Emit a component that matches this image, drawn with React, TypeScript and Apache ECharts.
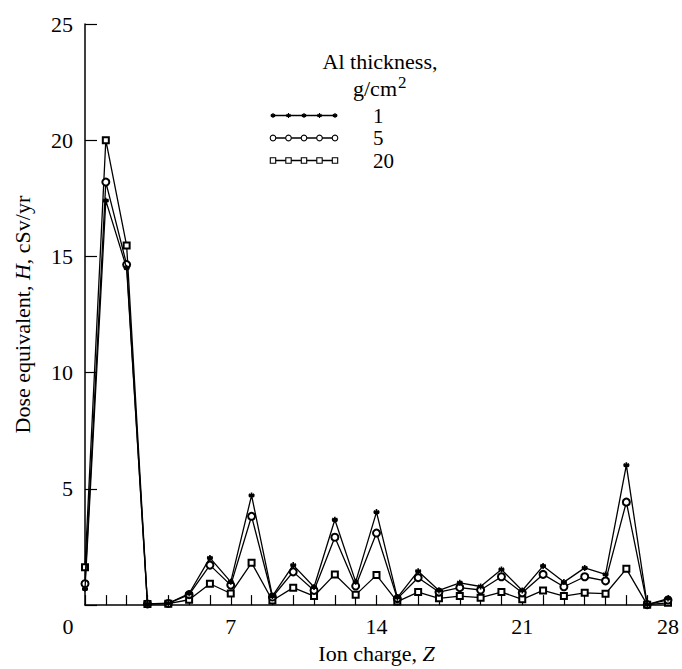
import React, { useEffect, useRef } from "react";
import * as echarts from "echarts";

// Ion charge Z, 0..28
const charges: number[] = Array.from({ length: 29 }, (_, i) => i);

// Annual dose equivalent H (cSv/yr) behind three Al shield thicknesses
const dose1: number[] = [
  0.7, 17.4, 14.5, 0.05, 0.08, 0.5, 2.03, 1.0, 4.72, 0.39, 1.72, 0.78, 3.67, 1.0, 4.0,
  0.32, 1.46, 0.63, 0.96, 0.8, 1.53, 0.63, 1.68, 0.99, 1.6, 1.32, 6.02, 0.02, 0.28,
];
const dose5: number[] = [
  0.92, 18.2, 14.65, 0.05, 0.07, 0.45, 1.72, 0.86, 3.82, 0.35, 1.43, 0.63, 2.92, 0.82, 3.1,
  0.28, 1.18, 0.56, 0.75, 0.65, 1.22, 0.53, 1.32, 0.79, 1.22, 1.04, 4.43, 0.02, 0.22,
];
const dose20: number[] = [
  1.63, 20.0, 15.47, 0.05, 0.06, 0.23, 0.92, 0.5, 1.82, 0.2, 0.75, 0.39, 1.32, 0.44, 1.29,
  0.15, 0.56, 0.29, 0.39, 0.32, 0.56, 0.25, 0.63, 0.39, 0.53, 0.49, 1.56, 0.02, 0.1,
];

const thicknessLabels: string[] = ["1", "5", "20"];
const yTicks: number[] = [0, 5, 10, 15, 20, 25];
const xLabelStep = 7;

const SERIF = "Liberation Serif, Times New Roman, DejaVu Serif, serif";
const ASTERISK_D = "M0,-3L0,3M-2.6,-1.5L2.6,1.5M-2.6,1.5L2.6,-1.5M-3,0L3,0";

echarts.graphic.registerShape("asterisk", echarts.graphic.extendPath(ASTERISK_D, {}));

type MarkerKind = "star" | "circle" | "square";

function legendRow(kind: MarkerKind, label: string, y: number): any[] {
  const x0 = 273;
  const x1 = 335;
  const els: any[] = [
    {
      type: "line",
      shape: { x1: x0, y1: y, x2: x1, y2: y },
      style: { stroke: "#000", lineWidth: 1.3 },
      silent: true,
    },
  ];
  for (let k = 0; k < 5; k++) {
    const cx = x0 + ((x1 - x0) * k) / 4;
    if (kind === "star") {
      els.push({
        type: "asterisk",
        x: cx,
        y,
        scaleX: 0.8,
        scaleY: 0.8,
        style: { stroke: "#000", fill: null, lineWidth: 1.5 },
        silent: true,
      });
    } else if (kind === "circle") {
      els.push({
        type: "circle",
        shape: { cx, cy: y, r: 2.8 },
        style: { stroke: "#000", fill: "#fff", lineWidth: 1.1 },
        silent: true,
      });
    } else {
      els.push({
        type: "rect",
        shape: { x: cx - 2.7, y: y - 2.7, width: 5.4, height: 5.4 },
        style: { stroke: "#000", fill: "#fff", lineWidth: 1.1 },
        silent: true,
      });
    }
  }
  els.push({
    type: "text",
    x: 373,
    y,
    style: {
      text: label,
      fontFamily: SERIF,
      fontSize: 21,
      lineHeight: 19,
      fill: "#000",
      textAlign: "left",
      textVerticalAlign: "middle",
    },
    silent: true,
  });
  return els;
}

export default function App() {
  const ref = useRef<HTMLDivElement>(null);

  useEffect(() => {
    if (!ref.current) return;
    const chart = echarts.init(ref.current, null, { renderer: "svg" });

    const seriesData = [dose1, dose5, dose20].map((arr) =>
      arr.map((v, i) => [charges[i], v])
    );

    const option: any = {
      animation: false,
      backgroundColor: "#fff",
      grid: { left: 85, right: 12.4, top: 24, bottom: 61.5, containLabel: false },
      xAxis: {
        type: "value",
        min: 0,
        max: 28,
        interval: 1,
        name: "Ion charge, {i|Z}",
        nameLocation: "middle",
        nameGap: 33,
        nameTextStyle: {
          fontFamily: SERIF,
          fontSize: 22,
          color: "#000",
          rich: { i: { fontFamily: SERIF, fontSize: 22, fontStyle: "italic", color: "#000" } },
        },
        axisLine: { show: true, lineStyle: { color: "#000", width: 1.5 } },
        axisTick: { show: true, inside: true, length: 10, lineStyle: { color: "#000", width: 1.2 } },
        axisLabel: {
          margin: 10,
          fontFamily: SERIF,
          fontSize: 22,
          color: "#000",
          showMinLabel: true,
          showMaxLabel: true,
          formatter: (v: number) =>
            v === 0 ? "{z|0}" : v % xLabelStep === 0 ? String(v) : "",
          rich: {
            z: { fontFamily: SERIF, fontSize: 22, color: "#000", padding: [0, 34, 0, 0] },
          },
        },
        splitLine: { show: false },
      },
      yAxis: {
        type: "value",
        min: yTicks[0],
        max: yTicks[yTicks.length - 1],
        interval: 5,
        name: "Dose equivalent, {i|H}, cSv/yr",
        nameLocation: "middle",
        nameGap: 52,
        nameTextStyle: {
          fontFamily: SERIF,
          fontSize: 22,
          color: "#000",
          rich: { i: { fontFamily: SERIF, fontSize: 22, fontStyle: "italic", color: "#000" } },
        },
        axisLine: { show: true, lineStyle: { color: "#000", width: 1.5 } },
        axisTick: { show: true, inside: true, length: 12, lineStyle: { color: "#000", width: 1.2 } },
        axisLabel: {
          margin: 12,
          fontFamily: SERIF,
          fontSize: 22,
          color: "#000",
          formatter: (v: number) => (v === 0 ? "" : String(v)),
        },
        splitLine: { show: false },
      },
      series: [
        {
          name: thicknessLabels[2],
          type: "line",
          data: seriesData[2],
          symbol: "emptyRect",
          symbolSize: 6,
          lineStyle: { color: "#000", width: 1.3 },
          itemStyle: { color: "#000", borderColor: "#000", borderWidth: 1.1 },
          z: 2,
        },
        {
          name: thicknessLabels[1],
          type: "line",
          data: seriesData[1],
          symbol: "emptyCircle",
          symbolSize: 7,
          lineStyle: { color: "#000", width: 1.3 },
          itemStyle: { color: "#000", borderColor: "#000", borderWidth: 1.1 },
          z: 3,
        },
        {
          name: thicknessLabels[0],
          type: "line",
          data: seriesData[0],
          symbol: "path://" + ASTERISK_D,
          symbolSize: 6,
          lineStyle: { color: "#000", width: 1.3 },
          itemStyle: { color: "#000", borderColor: "#000", borderWidth: 1.6 },
          z: 4,
        },
      ],
      graphic: [
        {
          type: "text",
          x: 380,
          y: 61,
          style: {
            text: "Al thickness,",
            fontFamily: SERIF,
            fontSize: 22,
            lineHeight: 20,
            fill: "#000",
            textAlign: "center",
            textVerticalAlign: "middle",
          },
          silent: true,
        },
        {
          type: "text",
          x: 397,
          y: 88,
          style: {
            text: "g/cm",
            fontFamily: SERIF,
            fontSize: 22,
            lineHeight: 20,
            fill: "#000",
            textAlign: "right",
            textVerticalAlign: "middle",
          },
          silent: true,
        },
        {
          type: "text",
          x: 398,
          y: 82,
          style: {
            text: "2",
            fontFamily: SERIF,
            fontSize: 17,
            lineHeight: 14,
            fill: "#000",
            textAlign: "left",
            textVerticalAlign: "middle",
          },
          silent: true,
        },
        ...legendRow("star", thicknessLabels[0], 115.5),
        ...legendRow("circle", thicknessLabels[1], 138),
        ...legendRow("square", thicknessLabels[2], 160.5),
      ],
    };

    chart.setOption(option);
    return () => chart.dispose();
  }, []);

  return (
    <div
      ref={ref}
      style={{ position: "fixed", left: 0, top: 0, width: 682, height: 669, background: "#fff" }}
    />
  );
}
